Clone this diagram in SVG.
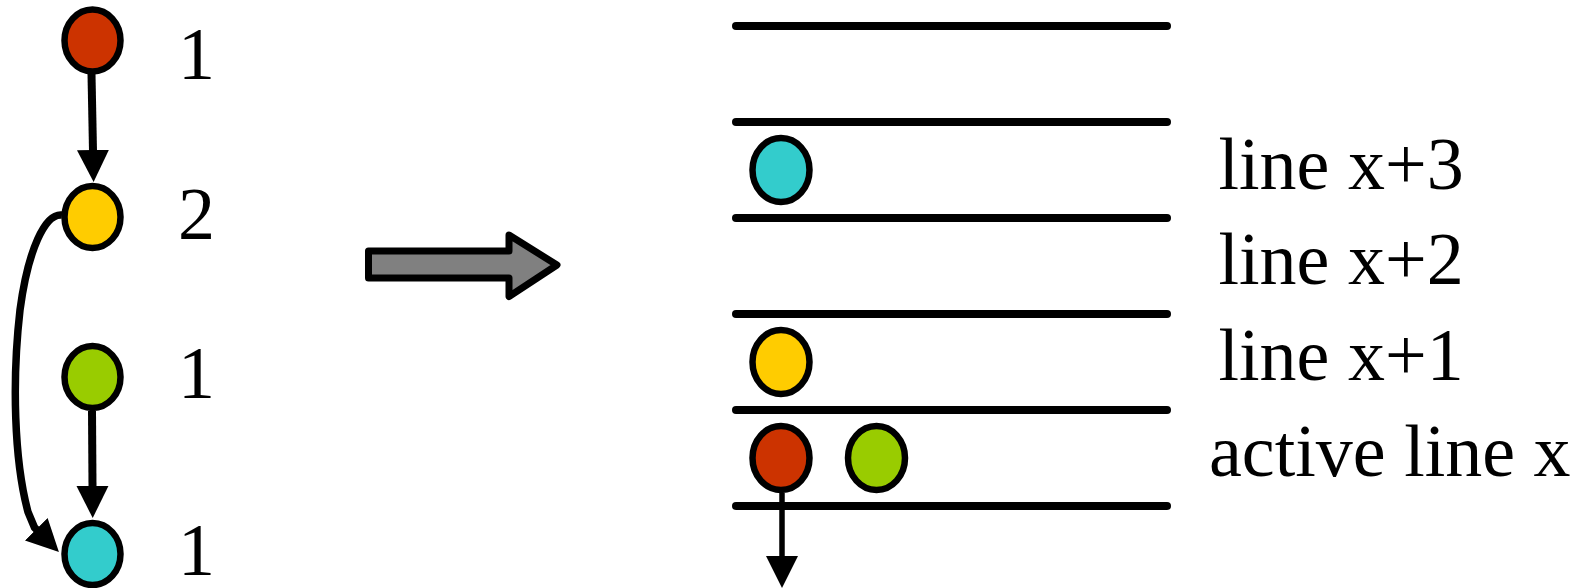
<svg xmlns="http://www.w3.org/2000/svg" width="1585" height="588" viewBox="0 0 1585 588">
  <style>
    .node { stroke: #000; stroke-width: 6.5; }
    .red { fill: #CC3300; }
    .yellow { fill: #FFCC00; }
    .green { fill: #99CC00; }
    .cyan { fill: #33CCCC; }
    .lbl { font-family: "Liberation Serif", "Times New Roman", serif; font-size: 74px; fill: #000; }
    .edge { fill: none; stroke: #000; stroke-width: 8; marker-end: url(#head); }
    .curve { stroke-width: 7.5; }
    .thin { stroke-width: 5.5; }
    .slot { stroke: #000; stroke-width: 8; stroke-linecap: round; }
    .bigarrow { fill: #808080; stroke: #000; stroke-width: 7; stroke-linejoin: round; }
  </style>
  <defs>
    <marker id="head" markerUnits="userSpaceOnUse" markerWidth="34" markerHeight="34" viewBox="0 -17 34 34" refX="1" refY="0" orient="auto">
      <path d="M0,-16 L32,0 L0,16 Z" fill="#000"/>
    </marker>
  </defs>
  <rect width="1585" height="588" fill="#fff"/>

  <!-- dependency graph -->
  <g id="connectors">
    <path class="edge" d="M91.5,74 L93,151"/>
    <path class="edge" d="M92,411 L92.5,487"/>
    <path class="edge curve" d="M62,215 C45,213 28,250 20,310 C12,380 14,460 28,512 L34.5,527.5 L37,530"/>
  </g>

  <g id="n1">
    <ellipse class="node red" cx="92.5" cy="40.5" rx="28" ry="31"/>
    <text class="lbl" x="178" y="79">1</text>
  </g>
  <g id="n2">
    <ellipse class="node yellow" cx="92.5" cy="217" rx="28" ry="31"/>
    <text class="lbl" x="178" y="239">2</text>
  </g>
  <g id="n3">
    <ellipse class="node green" cx="92.5" cy="377" rx="28" ry="31"/>
    <text class="lbl" x="178" y="398">1</text>
  </g>
  <g id="n4">
    <ellipse class="node cyan" cx="92.5" cy="554" rx="28" ry="31"/>
    <text class="lbl" x="178" y="575">1</text>
  </g>

  <!-- transformation arrow -->
  <g id="transform">
    <path class="bigarrow" d="M368.5,251 L509,251 L509,235 L557,265 L509,296.5 L509,278 L368.5,278 Z"/>
  </g>

  <!-- line buffer -->
  <g id="slots">
    <line class="slot" x1="736" y1="26" x2="1167" y2="26"/>
    <line class="slot" x1="736" y1="122" x2="1167" y2="122"/>
    <line class="slot" x1="736" y1="218" x2="1167" y2="218"/>
    <line class="slot" x1="736" y1="314" x2="1167" y2="314"/>
    <line class="slot" x1="736" y1="410" x2="1167" y2="410"/>
    <line class="slot" x1="736" y1="506" x2="1167" y2="506"/>
  </g>

  <g id="row3">
    <ellipse class="node cyan" cx="781" cy="170" rx="28.5" ry="32"/>
    <text class="lbl" x="1218.5" y="189">line x+3</text>
  </g>
  <g id="row2">
    <text class="lbl" x="1218.5" y="284">line x+2</text>
  </g>
  <g id="row1">
    <ellipse class="node yellow" cx="781" cy="362" rx="28.5" ry="32"/>
    <text class="lbl" x="1218.5" y="380">line x+1</text>
  </g>
  <g id="row0">
    <path class="edge thin" d="M782,493 L782,557"/>
    <ellipse class="node red" cx="781" cy="458" rx="28.5" ry="32"/>
    <ellipse class="node green" cx="876.5" cy="458" rx="28.5" ry="32"/>
    <text class="lbl" x="1209" y="476">active line x</text>
  </g>
</svg>
